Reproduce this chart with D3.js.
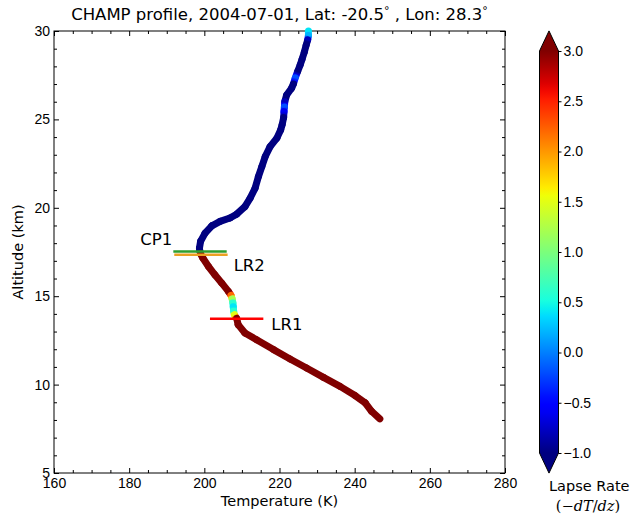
<!DOCTYPE html>
<html>
<head>
<meta charset="utf-8">
<script src="https://cdn.jsdelivr.net/npm/d3@7"></script>
<style>
  body { margin: 0; background: #fff; }
  svg { font-family: "DejaVu Sans", sans-serif; }
  .axis text { font-size: 14px; fill: #000; }
  .axis line { stroke: #000; }
</style>
</head>
<body>
<div id="chart"></div>
<script>
// profile data (top to bottom)
var altitude = [30.0, 29.75, 29.5, 29.2, 28.8, 28.4, 28.08, 27.7, 27.35, 27.0, 26.76, 26.38, 26.0, 25.7, 25.44, 25.1,
  24.7, 24.4, 23.94, 23.46, 22.9, 22.33, 21.77, 21.11, 20.55, 20.07, 19.64, 19.42, 19.23, 18.98, 18.57, 18.1, 17.72,
  17.55, 17.4, 17.16, 16.68, 16.21, 15.75, 15.27, 15.05, 14.85, 14.62, 14.4, 14.15, 13.95, 13.75, 13.39, 12.92,
  12.54, 11.98, 11.45, 10.94, 10.41, 9.9, 9.38, 8.97, 8.49, 8.06];
var temperature = [227.7, 227.7, 227.5, 227.1, 226.6, 226.0, 225.5, 224.8, 224.2, 223.7, 223.2, 221.9, 221.4, 221.3, 221.2, 221.1,
  220.7, 220.3, 219.3, 217.5, 216.2, 215.3, 214.4, 213.5, 212.2, 210.8, 208.6, 206.8, 204.2, 202.0, 200.2, 199.0, 198.7,
  198.8, 199.0, 199.6, 201.1, 202.8, 204.6, 206.4, 207.1, 207.4, 207.6, 207.7, 207.8, 208.0, 208.6, 209.0, 210.8,
  213.9, 218.4, 222.8, 227.2, 231.7, 236.1, 240.1, 242.8, 244.5, 246.7];
var lapseRate = [0.4, 0.2, -0.8, -1.4, -1.5, -1.5, -1.3, -1.0, -0.2, -1.0, -1.5, -1.5, -0.8, -0.2, -0.6, -1.0,
  -1.5, -1.5, -1.5, -1.5, -1.5, -1.5, -1.5, -1.5, -1.5, -1.5, -1.5, -1.5, -1.5, -1.5, -1.5, -1.5, -1.2,
  -1.0, 3.5, 3.5, 3.5, 3.5, 3.5, 3.5, 2.2, 1.2, 0.6, 0.4, 0.6, 1.5, 3.0, 3.5, 3.5,
  3.5, 3.5, 3.5, 3.5, 3.5, 3.5, 3.5, 3.5, 3.5, 3.5];

// tropopause markers
var markerNames = ["CP1", "LR2", "LR1"];
var markerAlt = [17.53, 17.34, 13.73];
var markerTemp = [198.85, 199.1, 208.6];
var markerColors = ["#2e9e2e", "#eba022", "#ff0000"];

var xTicks = [160, 180, 200, 220, 240, 260, 280];
var yTicks = [5, 10, 15, 20, 25, 30];
var cbTicks = [-1.0, -0.5, 0.0, 0.5, 1.0, 1.5, 2.0, 2.5, 3.0];

var width = 635, height = 514;
var margin = {left: 54, right: 130, top: 31, bottom: 41};

var svg = d3.select("#chart").append("svg")
  .attr("width", width).attr("height", height);

var x = d3.scaleLinear().domain([160, 280]).range([margin.left, width - margin.right]);
var y = d3.scaleLinear().domain([5, 30]).range([height - margin.bottom, margin.top]);

// jet colormap
var jetR = d3.scaleLinear().domain([0, 0.35, 0.66, 0.89, 1]).range([0, 0, 1, 1, 0.5]).clamp(true);
var jetG = d3.scaleLinear().domain([0, 0.125, 0.375, 0.64, 0.91, 1]).range([0, 0, 1, 1, 0, 0]).clamp(true);
var jetB = d3.scaleLinear().domain([0, 0.11, 0.34, 0.65, 1]).range([0.5, 1, 1, 0, 0]).clamp(true);
function jet(t) {
  return d3.rgb(255 * jetR(t), 255 * jetG(t), 255 * jetB(t)).formatHex();
}
var lapseNorm = d3.scaleLinear().domain([-1, 3]).range([0, 1]).clamp(true);
function lapseColor(v) { return jet(lapseNorm(v)); }

var defs = svg.append("defs");

// ---- axes ----
var x0 = margin.left, x1 = width - margin.right, y0 = height - margin.bottom, y1 = margin.top;
var minorX = d3.range(160, 281, 5).filter(d => d % 20 !== 0);
var minorY = d3.range(5, 31, 1).filter(d => d % 5 !== 0);

function addAxis(axis, tr) {
  var g = svg.append("g").attr("class", "axis").attr("transform", tr).call(axis);
  g.select(".domain").remove();
  return g;
}
addAxis(d3.axisBottom(x).tickValues(xTicks).tickSize(-5).tickPadding(5).tickFormat(d3.format("d")), `translate(0,${y0})`);
addAxis(d3.axisBottom(x).tickValues(minorX).tickSize(-3).tickFormat(""), `translate(0,${y0})`);
addAxis(d3.axisTop(x).tickValues(xTicks).tickSize(-5).tickFormat(""), `translate(0,${y1})`);
addAxis(d3.axisTop(x).tickValues(minorX).tickSize(-3).tickFormat(""), `translate(0,${y1})`);
addAxis(d3.axisLeft(y).tickValues(yTicks).tickSize(-5).tickPadding(4).tickFormat(d3.format("d")), `translate(${x0},0)`);
addAxis(d3.axisLeft(y).tickValues(minorY).tickSize(-3).tickFormat(""), `translate(${x0},0)`);
addAxis(d3.axisRight(y).tickValues(yTicks).tickSize(-5).tickFormat(""), `translate(${x1},0)`);
addAxis(d3.axisRight(y).tickValues(minorY).tickSize(-3).tickFormat(""), `translate(${x1},0)`);

svg.append("rect")
  .attr("x", x0).attr("y", y1).attr("width", x1 - x0).attr("height", y0 - y1)
  .attr("fill", "none").attr("stroke", "#000").attr("stroke-width", 1);

// ---- profile curve, each segment shaded between its end colors ----
var pts = altitude.map((a, i) => ({z: a, t: temperature[i], l: lapseRate[i]}));
var segs = d3.pairs(pts);
segs.forEach(function(s, i) {
  var grad = defs.append("linearGradient")
    .attr("id", "seg" + i)
    .attr("gradientUnits", "userSpaceOnUse")
    .attr("x1", x(s[0].t)).attr("y1", y(s[0].z))
    .attr("x2", x(s[1].t)).attr("y2", y(s[1].z));
  d3.range(0, 1.01, 0.25).forEach(function(f) {
    grad.append("stop").attr("offset", f)
      .attr("stop-color", lapseColor(s[0].l + (s[1].l - s[0].l) * f));
  });
});
svg.append("g")
  .attr("fill", "none")
  .attr("stroke-width", 7)
  .attr("stroke-linecap", "round")
  .selectAll("line")
  .data(segs)
  .join("line")
    .attr("x1", d => x(d[0].t)).attr("y1", d => y(d[0].z))
    .attr("x2", d => x(d[1].t)).attr("y2", d => y(d[1].z))
    .attr("stroke", (d, i) => `url(#seg${i})`);

// ---- markers ----
var halfWidth = 7.1;
var labelPos = [
  {dx: -halfWidth, anchor: "end", ox: -1, oy: -12},
  {dx: halfWidth, anchor: "start", ox: 6, oy: 10},
  {dx: halfWidth, anchor: "start", ox: 8, oy: 6}
];
markerNames.forEach(function(name, i) {
  svg.append("line")
    .attr("x1", x(markerTemp[i] - halfWidth)).attr("x2", x(markerTemp[i] + halfWidth))
    .attr("y1", y(markerAlt[i])).attr("y2", y(markerAlt[i]))
    .attr("stroke", markerColors[i]).attr("stroke-width", 2.5);
  var p = labelPos[i];
  svg.append("text")
    .attr("x", x(markerTemp[i] + p.dx) + p.ox)
    .attr("y", y(markerAlt[i]) + p.oy)
    .attr("dy", "0.35em")
    .attr("text-anchor", p.anchor)
    .style("font-size", "16.5px")
    .text(name);
});

// ---- titles ----
var title = svg.append("text")
  .attr("x", (x0 + x1) / 2).attr("y", 20)
  .attr("text-anchor", "middle")
  .style("font-size", "16.5px");
title.append("tspan").text("CHAMP profile, 2004-07-01, Lat: -20.5");
title.append("tspan").attr("dy", -6).style("font-size", "11px").text("\u00b0");
title.append("tspan").attr("dy", 6).text(" , Lon: 28.3");
title.append("tspan").attr("dy", -6).style("font-size", "11px").text("\u00b0");

svg.append("text")
  .attr("x", (x0 + x1) / 2).attr("y", 506)
  .attr("text-anchor", "middle")
  .style("font-size", "14.5px")
  .text("Temperature (K)");

svg.append("text")
  .attr("transform", `translate(18,${(y0 + y1) / 2}) rotate(-90)`)
  .attr("text-anchor", "middle")
  .attr("dy", "0.35em")
  .style("font-size", "14.5px")
  .text("Altitude (km)");

// ---- colorbar ----
var cbX = 539.5, cbW = 19;
var cb = d3.scaleLinear().domain([-1, 3]).range([453, 51]);
var cbGrad = defs.append("linearGradient")
  .attr("id", "cbGrad").attr("x1", 0).attr("y1", 1).attr("x2", 0).attr("y2", 0);
d3.range(0, 1.001, 0.02).forEach(function(f) {
  cbGrad.append("stop").attr("offset", f).attr("stop-color", jet(f));
});
svg.append("rect")
  .attr("x", cbX).attr("y", cb(3)).attr("width", cbW).attr("height", cb(-1) - cb(3))
  .attr("fill", "url(#cbGrad)");
var ext = 0.05 * (cb(-1) - cb(3));
svg.append("path")
  .attr("d", `M${cbX},${cb(3)}L${cbX + cbW / 2},${cb(3) - ext}L${cbX + cbW},${cb(3)}Z`)
  .attr("fill", jet(1));
svg.append("path")
  .attr("d", `M${cbX},${cb(-1)}L${cbX + cbW / 2},${cb(-1) + ext}L${cbX + cbW},${cb(-1)}Z`)
  .attr("fill", jet(0));
svg.append("path")
  .attr("d", `M${cbX},${cb(3)}L${cbX + cbW / 2},${cb(3) - ext}L${cbX + cbW},${cb(3)}` +
             `L${cbX + cbW},${cb(-1)}L${cbX + cbW / 2},${cb(-1) + ext}L${cbX},${cb(-1)}Z`)
  .attr("fill", "none").attr("stroke", "#000").attr("stroke-width", 1);

var cbAxis = svg.append("g").attr("class", "axis")
  .attr("transform", `translate(${cbX + cbW},0)`)
  .call(d3.axisRight(cb).tickValues(cbTicks).tickSize(3).tickPadding(2)
    .tickFormat(d => d3.format(".1f")(d).replace("-", "\u2212")));
cbAxis.select(".domain").remove();

svg.append("text")
  .attr("x", 549).attr("y", 491)
  .style("font-size", "14.5px")
  .text("Lapse Rate");
var sub = svg.append("text")
  .attr("x", 588).attr("y", 511)
  .attr("text-anchor", "middle")
  .style("font-size", "14.5px")
  .style("font-family", "'DejaVu Serif', serif");
sub.append("tspan").text("(\u2212");
sub.append("tspan").style("font-style", "italic").text("dT");
sub.append("tspan").text("/");
sub.append("tspan").style("font-style", "italic").text("dz");
sub.append("tspan").text(")");
</script>
</body>
</html>
